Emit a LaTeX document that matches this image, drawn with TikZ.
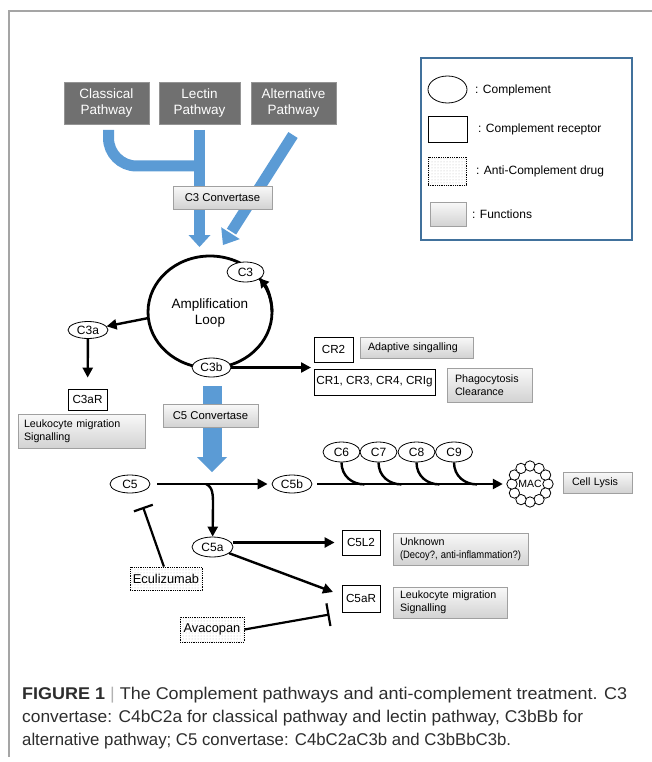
\documentclass[tikz,border=0pt]{standalone}
\usepackage{graphicx}
\usepackage{fontspec}
\setmainfont{Liberation Sans}
\usetikzlibrary{arrows.meta,shapes.geometric,patterns,calc}
\definecolor{pblue}{RGB}{91,155,213}
\definecolor{pgray}{RGB}{112,112,112}
\definecolor{fbord}{RGB}{160,160,160}
\definecolor{lgbord}{RGB}{65,113,156}
\definecolor{framec}{RGB}{165,165,165}
\definecolor{captxt}{RGB}{45,45,45}
\begin{document}
\begin{tikzpicture}[x=1pt,y=-1pt,
  every node/.style={inner sep=0pt},
  pathbox/.style={draw=pgray!75!white, fill=pgray, text=white, align=center,
    font=\fontsize{13.5}{16.5}\selectfont, minimum height=42pt},
  func/.style={draw=fbord, top color=gray!5, bottom color=gray!35, align=left,
    font=\fontsize{10.7}{12.8}\selectfont},
  conv/.style={draw=fbord, top color=gray!5, bottom color=gray!35,
    font=\fontsize{11.3}{13}\selectfont, minimum height=23pt},
  cmp/.style={ellipse, draw, fill=white, line width=0.8pt, font=\fontsize{12}{14}\selectfont},
  rcp/.style={rectangle, draw, fill=white, line width=0.8pt, font=\fontsize{11.7}{14}\selectfont},
  drug/.style={rectangle, draw, densely dotted, line width=0.8pt, pattern=dots,
    pattern color=gray!55, font=\fontsize{12.8}{15}\selectfont},
  blk/.style={line width=2.4pt, -{Triangle[length=10pt,width=10pt]}},
  hook/.style={line width=2.4pt},
  inh/.style={line width=2.2pt, -{Bar[width=#1]}},
  legtxt/.style={anchor=west, font=\fontsize{12}{14}\selectfont},
  captext/.style={anchor=base west, text=captxt},
]
\useasboundingbox (0,0) rectangle (652,762);
% outer frame
\draw[framec, line width=1.2pt] (652,11) -- (9,11) -- (9,757);

% ---------- pathways ----------
\node[pathbox, minimum width=85pt] (classical) at (106.5,103) {Classical\\Pathway};
\node[pathbox, minimum width=81pt] (lectin) at (199.5,103) {Lectin\\Pathway};
\node[pathbox, minimum width=85pt] (alternative) at (293.5,103) {Alternative\\Pathway};

% blue block arrows
\coordinate (clS) at (108.5,130);
\coordinate (leS) at (199.5,130);
\coordinate (alS) at (293,135);
\draw[pblue, line width=11pt] (clS) -- (108.5,138) arc[start angle=180, end angle=90, radius=28] -- (199,166);
\draw[pblue, line width=11pt] (leS) -- (199.5,236);
\fill[pblue] (188.5,235) -- (210.5,235) -- (199.5,247) -- cycle;
\draw[pblue, line width=11pt] (alS) -- (231.5,231.6);
\fill[pblue] (239.8,239.1) -- (221.2,227.3) -- (223,245) -- cycle;

\node[conv, minimum width=99pt] (c3conv) at (222.5,197.5) {C3 Convertase};

% ---------- amplification loop ----------
\draw[line width=2.8pt] (210,312) ellipse [x radius=62, y radius=56];
\node[align=center, font=\fontsize{13.5}{15.5}\selectfont] (looptxt) at (210,313) {Amplification\\Loop};
\coordinate (loopW) at (148.5,318);

\node[cmp, minimum width=37pt, minimum height=20pt] (C3) at (245.5,272) {C3};
\node[cmp, minimum width=39pt, minimum height=19pt] (C3b) at (211.5,367.5) {C3b};
\node[cmp, minimum width=40pt, minimum height=17pt] (C3a) at (88,330) {C3a};
\draw[line width=2.8pt, -{Triangle[length=9pt,width=10pt]}] (272,312) arc[start angle=0, end angle=-37, x radius=62, y radius=56];

\draw[blk] (loopW) -- (C3a);
\node[rcp, minimum width=39pt, minimum height=21pt] (C3aR) at (87.5,399.5) {C3aR};
\draw[blk, shorten >=11pt] (C3a) -- (C3aR);
\node[func, minimum width=127pt, minimum height=34pt, text width=115pt] (leuk1) at (81.5,431) {Leukocyte migration\\Signalling};

% CR receptors
\node[rcp, minimum width=39pt, minimum height=25pt] (CR2) at (333.5,349.5) {CR2};
\node[rcp, minimum width=121pt, minimum height=26pt] (CR1) at (374.5,382) {CR1, CR3, CR4, CRIg};
\node[func, minimum width=113pt, minimum height=21pt, text width=97pt] (adapt) at (416.5,347.5) {Adaptive singalling};
\node[func, minimum width=85pt, minimum height=34pt, text width=69pt] (phago) at (489.5,385) {Phagocytosis\\Clearance};
\coordinate (crj) at (311,367.5);
\draw[blk] (C3b.east) -- (crj);

% C5 convertase arrow
\draw[pblue, line width=19pt] (212,386) -- (212,458);
\fill[pblue] (197,457) -- (227,457) -- (212,472) -- cycle;
\node[conv, minimum width=95pt] (c5conv) at (210.5,415.5) {C5 Convertase};

% ---------- C5 row ----------
\node[cmp, minimum width=40pt, minimum height=18pt] (C5) at (130,484) {C5};
\node[cmp, minimum width=40pt, minimum height=18pt] (C5b) at (292,484) {C5b};
\node[cmp, minimum width=37pt, minimum height=20pt] (C6) at (341.5,452) {C6};
\node[cmp, minimum width=37pt, minimum height=20pt] (C7) at (378.5,452) {C7};
\node[cmp, minimum width=37pt, minimum height=20pt] (C8) at (416.5,452) {C8};
\node[cmp, minimum width=37pt, minimum height=20pt] (C9) at (454,452) {C9};

\node[circle, minimum size=46pt] (MAC) at (530,484) {};
\foreach \a in {0,30,...,330}
  \draw[fill=white, line width=0.8pt] ($(MAC.center)+(\a:18)$) circle[radius=5.2];
\node[font=\fontsize{10.5}{12}\selectfont] (mactxt) at (530,484) {MAC};
\node[func, minimum width=69pt, minimum height=21pt, text width=51pt] (lysis) at (597.5,482.5) {Cell Lysis};

\foreach \c in {C6,C7,C8,C9}
  \draw[hook] (\c.south) .. controls +(0,14) and +(-12,0) .. ($(\c.south)+(23,22)$);
\draw[blk, shorten <=5pt, shorten >=4pt] (C5b) -- (MAC);

\coordinate (br) at (206,484);
\draw[blk, shorten <=7pt, shorten >=4pt] (C5) -- (C5b);
\node[cmp, minimum width=41pt, minimum height=20pt] (C5a) at (212.5,547) {C5a};
\draw[blk] (br) .. controls (213,487) and (213,495) .. (213,505) -- (C5a);

% C5a targets
\node[rcp, minimum width=38pt, minimum height=25pt] (C5L2) at (361,542.5) {C5L2};
\node[rcp, minimum width=38pt, minimum height=27pt] (C5aR) at (361,598.5) {C5aR};
\node[func, minimum width=135pt, minimum height=32pt, text width=121pt] (unk) at (460.5,549) {Unknown\\\resizebox{121pt}{\height}{(Decoy?, anti-inflammation?)}};
\node[func, minimum width=114pt, minimum height=31pt, text width=100pt] (leuk2) at (450,602.5) {Leukocyte migration\\Signalling};
\draw[blk, shorten >=7pt] (C5a.east |- C5L2.west) -- (C5L2.west);
\coordinate (c5arT) at (333,592);
\draw[blk] (C5a) -- (c5arT);

% drugs
\node[drug, minimum width=72pt, minimum height=23pt] (ecu) at (166,578.5) {Eculizumab};
\node[drug, minimum width=64pt, minimum height=25pt] (ava) at (212,629.5) {Avacopan};
\coordinate (ecuT) at (143,507);
\coordinate (avaT) at (329.5,614.5);
\draw[inh=20pt] (ecu.100) -- (ecuT);
\draw[inh=23pt] (ava.east) -- (avaT);

% ---------- legend ----------
\node[draw=lgbord, line width=1.2pt, minimum width=211pt, minimum height=182pt] (legend) at (526.5,149) {};
\node[ellipse, draw, line width=0.8pt, minimum width=39pt, minimum height=27pt] (lgc) at (447.5,89.5) {};
\node[legtxt] (lgct) at (475,90) {: Complement};
\node[rectangle, draw, line width=0.8pt, minimum width=39pt, minimum height=26pt] (lgr) at (447.5,129) {};
\node[legtxt] (lgrt) at (478,129) {: Complement receptor};
\node[drug, minimum width=38pt, minimum height=28pt] (lgd) at (447,171) {};
\node[legtxt] (lgdt) at (476,171) {: Anti-Complement drug};
\node[func, minimum width=36pt, minimum height=24pt] (lgf) at (448,214) {};
\node[legtxt] (lgft) at (472,214) {: Functions};

% ---------- caption ----------
\node[captext] (cap1) at (22,699) {\resizebox{605pt}{\height}{\fontsize{17}{20}\selectfont\textbf{FIGURE 1} {\color{gray!60}|} The Complement pathways and anti-complement treatment. C3}};
\node[captext] (cap2) at (22,722) {\resizebox{561pt}{\height}{\fontsize{17}{20}\selectfont convertase: C4bC2a for classical pathway and lectin pathway, C3bBb for}};
\node[captext] (cap3) at (22,745) {\resizebox{489pt}{\height}{\fontsize{17}{20}\selectfont alternative pathway; C5 convertase: C4bC2aC3b and C3bBbC3b.}};
\end{tikzpicture}
\end{document}
